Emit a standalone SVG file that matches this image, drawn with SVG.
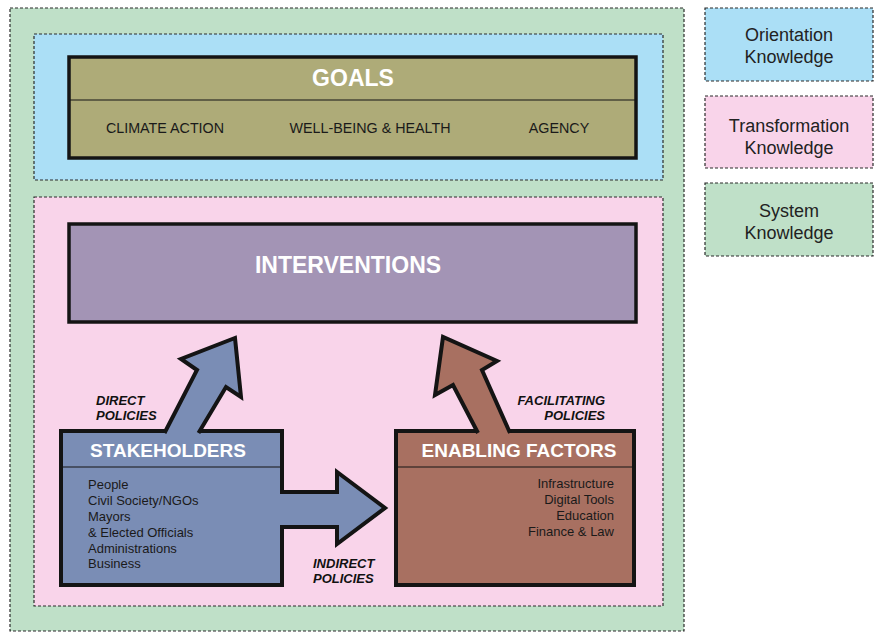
<svg xmlns="http://www.w3.org/2000/svg" width="878" height="632" viewBox="0 0 878 632">
<style>
.zone{stroke:#2a2a2a;stroke-width:1.2;stroke-dasharray:3 2}
.box{stroke:#141414;stroke-width:3.5}
.arrow{stroke:#141414;stroke-width:4;stroke-linejoin:miter}
.div{stroke:#141414;stroke-width:1.2}
text{font-family:"Liberation Sans",Arial,Helvetica,sans-serif}
.title{font-weight:bold;fill:#fff}
.item{font-size:13px;fill:#1a1a1a}
.goal{font-size:14.3px;fill:#1a1a1a}
.pol{font-size:13px;font-weight:bold;font-style:italic;fill:#111}
.leg{font-size:18px;fill:#222;text-anchor:middle}
</style>
<rect width="878" height="632" fill="#fff"/>
<g id="system-zone"><rect class="zone" x="10" y="8" width="674" height="623" fill="#bfe0c8"/></g>
<g id="orientation-zone"><rect class="zone" x="34" y="34" width="629" height="146" fill="#abdff6"/></g>
<g id="transformation-zone"><rect class="zone" x="34" y="197" width="629" height="409" fill="#f9d4ea"/></g>

<g id="goals">
<rect class="box" x="69" y="57" width="567" height="101" fill="#aeab78"/>
<line class="div" x1="69" y1="100" x2="636" y2="100"/>
<text class="title" x="353" y="86" font-size="23" text-anchor="middle">GOALS</text>
<text class="goal" x="165" y="133" text-anchor="middle">CLIMATE ACTION</text>
<text class="goal" x="370" y="133" text-anchor="middle">WELL-BEING &amp; HEALTH</text>
<text class="goal" x="559" y="133" text-anchor="middle">AGENCY</text>
</g>

<g id="interventions">
<rect class="box" x="69" y="224" width="567" height="98" fill="#a394b5"/>
<text class="title" x="348" y="273" font-size="23" text-anchor="middle">INTERVENTIONS</text>
</g>

<g id="stakeholders">
<rect class="arrow" x="61" y="431" width="221" height="154" fill="#7a8db5"/>
<line class="div" x1="61" y1="467" x2="282" y2="467"/>
<text class="title" x="168" y="457" font-size="19" text-anchor="middle">STAKEHOLDERS</text>
<text class="item" x="88" y="489">People</text>
<text class="item" x="88" y="505">Civil Society/NGOs</text>
<text class="item" x="88" y="521">Mayors</text>
<text class="item" x="88" y="537">&amp; Elected Officials</text>
<text class="item" x="88" y="553">Administrations</text>
<text class="item" x="88" y="568">Business</text>
</g>

<g id="enabling-factors">
<rect class="arrow" x="396" y="431" width="238" height="154" fill="#a87061"/>
<line class="div" x1="396" y1="467" x2="634" y2="467"/>
<text class="title" x="519" y="457" font-size="19" text-anchor="middle">ENABLING FACTORS</text>
<text class="item" x="614" y="488" text-anchor="end">Infrastructure</text>
<text class="item" x="614" y="504" text-anchor="end">Digital Tools</text>
<text class="item" x="614" y="520" text-anchor="end">Education</text>
<text class="item" x="614" y="536" text-anchor="end">Finance &amp; Law</text>
</g>

<g id="connectors">
<path class="arrow" fill="#7a8db5" d="M164.5,433 L197,370 L181,359 L235,338 L241,397 L226,387 L198.5,433"/>
<path class="arrow" fill="#7a8db5" d="M280,492 L337,492 L337,472 L385,508 L337,544 L337,527 L280,527"/>
<path class="arrow" fill="#a87061" d="M478,433 L453,385 L435,395 L443,337 L497,361 L482,370 L510,433"/>
<text class="pol" x="96" y="405">DIRECT</text>
<text class="pol" x="96" y="420">POLICIES</text>
<text class="pol" x="313" y="568">INDIRECT</text>
<text class="pol" x="313" y="583">POLICIES</text>
<text class="pol" x="605" y="405" text-anchor="end">FACILITATING</text>
<text class="pol" x="605" y="420" text-anchor="end">POLICIES</text>
</g>

<g id="legend-orientation">
<rect class="zone" x="705" y="8" width="168" height="73" fill="#abdff6"/>
<text class="leg" x="789" y="41">Orientation</text>
<text class="leg" x="789" y="63">Knowledge</text>
</g>
<g id="legend-transformation">
<rect class="zone" x="705" y="96" width="168" height="72" fill="#f9d4ea"/>
<text class="leg" x="789" y="132">Transformation</text>
<text class="leg" x="789" y="154">Knowledge</text>
</g>
<g id="legend-system">
<rect class="zone" x="705" y="183" width="168" height="73" fill="#bfe0c8"/>
<text class="leg" x="789" y="217">System</text>
<text class="leg" x="789" y="239">Knowledge</text>
</g>
</svg>
